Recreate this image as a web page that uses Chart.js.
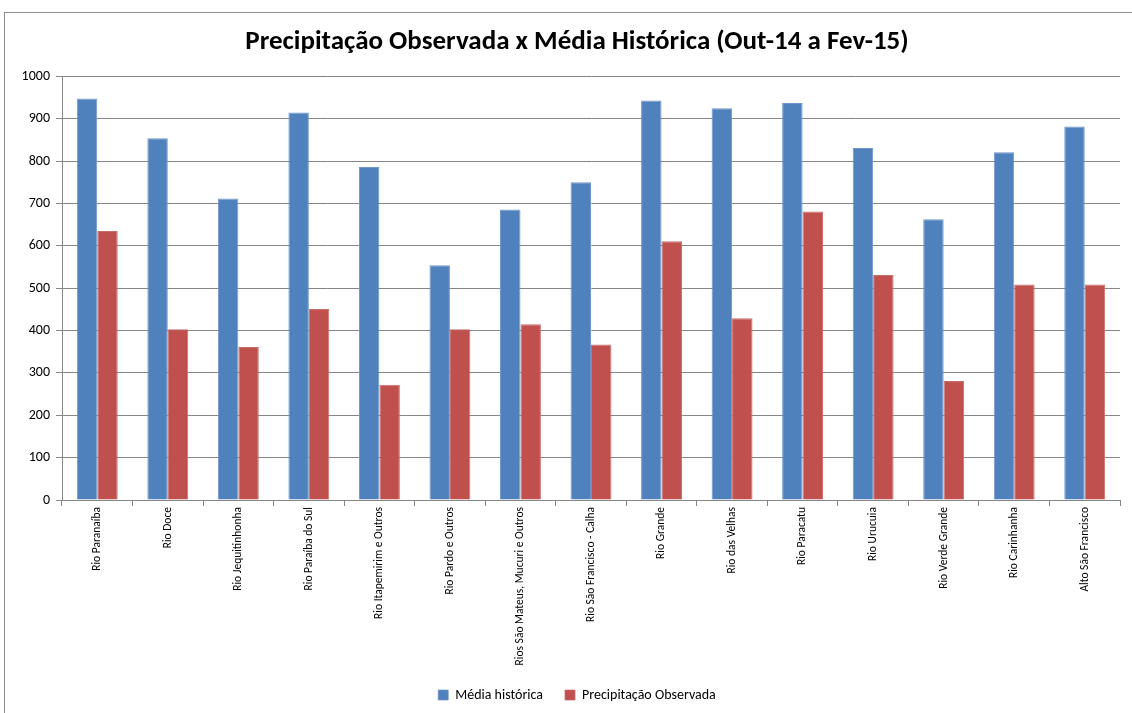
<!DOCTYPE html>
<html>
<head>
<meta charset="utf-8">
<script src="https://cdn.jsdelivr.net/npm/chart.js@4/dist/chart.umd.min.js"></script>
<style>
    html, body { margin: 0; padding: 0; background: #fff; overflow: hidden; }
    #wrap { position: relative; width: 1132px; height: 713px; overflow: hidden; }
    #frame { position: absolute; left: 4px; top: 12px; width: 1160px; height: 720px; border: 1px solid #8c8c8c; box-sizing: border-box; }
    #chart { position: absolute; left: 0; top: 0; }
</style>
</head>
<body>
<div id="wrap">
    <div id="frame"></div>
    <canvas id="chart" width="1132" height="713"></canvas>
</div>
<script>
const bacias = [
    'Rio Paranaíba',
    'Rio Doce',
    'Rio Jequitinhonha',
    'Rio Paraíba do Sul',
    'Rio Itapemirim e Outros',
    'Rio Pardo e Outros',
    'Rios São Mateus, Mucuri e Outros',
    'Rio São Francisco - Calha',
    'Rio Grande',
    'Rio das Velhas',
    'Rio Paracatu',
    'Rio Urucuia',
    'Rio Verde Grande',
    'Rio Carinhanha',
    'Alto São Francisco',
];
const mediaHistorica = [948, 854, 712, 915, 786, 554, 686, 750, 943, 925, 937, 831, 663, 821, 882];
const precipObservada = [635, 403, 361, 451, 272, 403, 415, 367, 611, 429, 681, 531, 281, 509, 509];
const yTicks = [0, 100, 200, 300, 400, 500, 600, 700, 800, 900, 1000];

const fontFamily = "Carlito, 'Liberation Sans', Arial, sans-serif";

// the original frame runs past the right edge, so title and legend sit a bit right of centre
const shiftBoxes = {
    id: 'shiftBoxes',
    afterLayout(chart) {
        const dx = 11;
        [chart.titleBlock, chart.legend].forEach(box => {
            if (!box) return;
            box.left += dx;
            box.right += dx;
        });
    }
};

new Chart(document.getElementById('chart'), {
    type: 'bar',
    data: {
        labels: bacias,
        datasets: [{
            label: 'Média histórica',
            data: mediaHistorica,
            backgroundColor: '#4F81BD',
            borderColor: '#6F97C9',
            borderWidth: { left: 1, right: 1, top: 1, bottom: 0 },
        }, {
            label: 'Precipitação Observada',
            data: precipObservada,
            backgroundColor: '#C0504D',
            borderColor: '#CB6E6B',
            borderWidth: { left: 1, right: 1, top: 1, bottom: 0 },
        }]
    },
    plugins: [shiftBoxes],
    options: {
        responsive: false,
        animation: false,
        layout: { padding: { left: 12, right: 12, top: 0, bottom: 1 } },
        datasets: {
            bar: { categoryPercentage: 0.58, barPercentage: 1 }
        },
        plugins: {
            title: {
                display: true,
                text: 'Precipitação Observada x Média Histórica (Out-14 a Fev-15)',
                color: '#000',
                font: { family: "'Liberation Sans Narrow', " + fontFamily, size: 27, weight: 'bold' },
                padding: { top: 26, bottom: 18 },
            },
            legend: {
                position: 'bottom',
                labels: {
                    color: '#000',
                    font: { family: fontFamily, size: 14 },
                    boxWidth: 10,
                    boxHeight: 10,
                    padding: 22,
                },
            },
            tooltip: { enabled: false },
        },
        scales: {
            x: {
                grid: {
                    display: true,
                    drawOnChartArea: false,
                    drawTicks: true,
                    tickLength: 6,
                    color: '#868686',
                },
                border: { color: '#868686' },
                ticks: {
                    color: '#000',
                    font: { family: fontFamily, size: 11.5 },
                    minRotation: 90,
                    maxRotation: 90,
                    autoSkip: false,
                    padding: 1,
                },
                afterFit(scale) { scale.height = 166; },
            },
            y: {
                min: 0,
                max: 1000,
                afterBuildTicks(scale) { scale.ticks = yTicks.map(v => ({ value: v })); },
                grid: {
                    color: '#868686',
                    tickLength: 6,
                },
                border: { color: '#868686' },
                ticks: {
                    color: '#000',
                    font: { family: fontFamily, size: 14 },
                    padding: 6,
                    callback: v => String(v),
                },
                afterFit(scale) { scale.width = 50; },
            }
        }
    }
});
</script>
</body>
</html>
